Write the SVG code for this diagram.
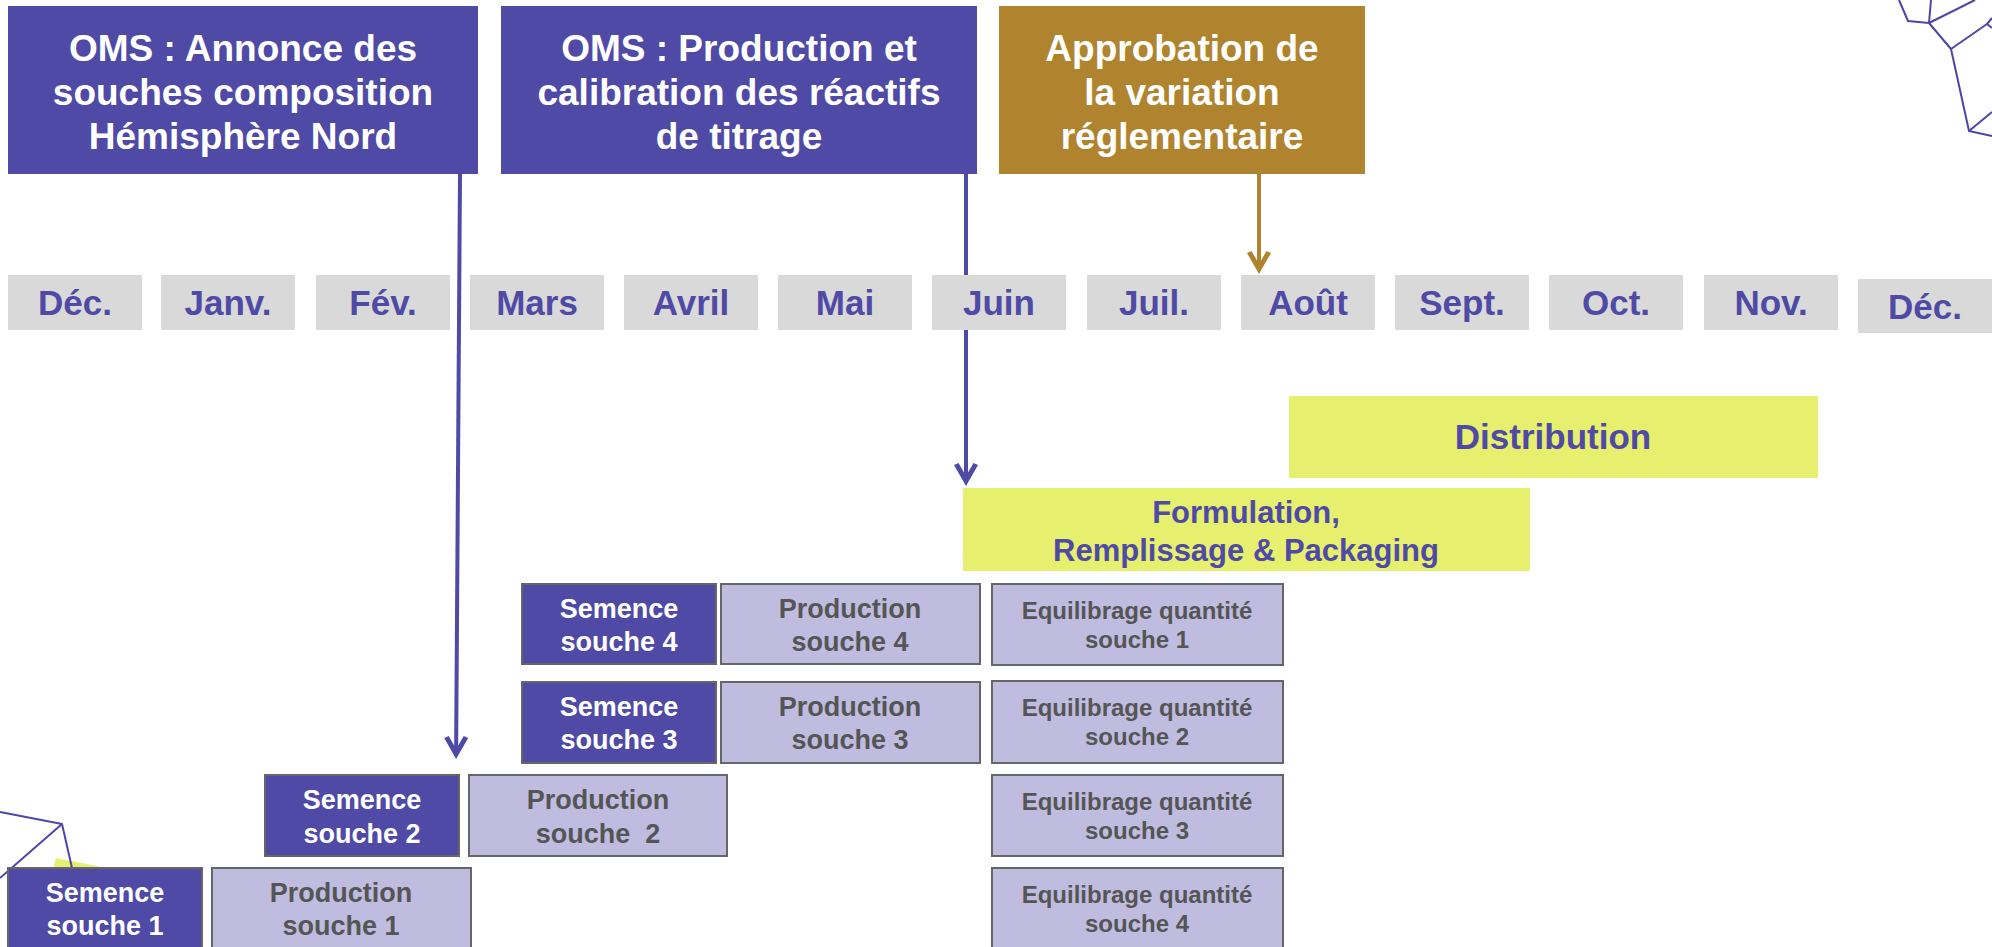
<svg xmlns="http://www.w3.org/2000/svg" width="1992" height="947" viewBox="0 0 1992 947">
  <style>
    text { font-family: "Liberation Sans", Arial, sans-serif; font-weight: bold; text-anchor: middle; }
    .hdr-p { fill: #4F4AA5; }
    .hdr-b { fill: #B0842F; }
    .hdr-t { fill: #FFFFFF; font-size: 37px; }
    .month { fill: #D9D9D9; }
    .month-t { fill: #4F4AA5; font-size: 35px; }
    .yel { fill: #E6EF6E; }
    .yel-t { fill: #4F4AA5; }
    .seed { fill: #4F4AA5; stroke: #666666; stroke-width: 2; }
    .seed-t { fill: #FFFFFF; font-size: 27px; }
    .prod { fill: #BFBCE0; stroke: #666666; stroke-width: 2; }
    .prod-t { fill: #555555; font-size: 27px; }
    .eq-t { fill: #555555; font-size: 24px; }
    .deco { fill: none; stroke: #4E46A5; stroke-width: 2; stroke-linejoin: round; }
    .conn-p { fill: none; stroke: #4F4AA5; stroke-width: 4; }
    .conn-b { fill: none; stroke: #B0842F; stroke-width: 4; }
  </style>
  <defs>
    <marker id="arrow-p" markerUnits="userSpaceOnUse" viewBox="-25 -13 27 26" refX="-6" refY="0" markerWidth="27" markerHeight="26" orient="auto">
      <path d="M0,0 L-21,-12 L-23,-7.5 L-10,0 L-23,7.5 L-21,12 Z" fill="#4F4AA5"/>
    </marker>
    <marker id="arrow-b" markerUnits="userSpaceOnUse" viewBox="-25 -13 27 26" refX="-6" refY="0" markerWidth="27" markerHeight="26" orient="auto">
      <path d="M0,0 L-21,-12 L-23,-7.5 L-10,0 L-23,7.5 L-21,12 Z" fill="#B0842F"/>
    </marker>
  </defs>

  <rect width="1992" height="947" fill="#FFFFFF"/>

  <!-- corner wireframe ornaments -->
  <g id="ornaments">
    <polyline class="deco" points="1899,0 1908,21 1929,23 1931,0"/>
    <polyline class="deco" points="1929,23 1975,0"/>
    <polyline class="deco" points="1929,23 1951,49 1987,24 1992,28"/>
    <polyline class="deco" points="1987,24 1992,18"/>
    <polyline class="deco" points="1951,49 1969,131 1992,136"/>
    <polyline class="deco" points="1969,131 1992,112"/>
    <polygon points="53,870 56,858 112,869" fill="#E6EF6E"/>
    <polyline class="deco" points="0,812 62,824 0,878"/>
    <polyline class="deco" points="62,824 72,868"/>
  </g>

  <!-- connectors (drawn under the month bar) -->
  <g id="connectors">
    <line class="conn-p" x1="460" y1="174" x2="456.1" y2="753" marker-end="url(#arrow-p)"/>
    <line class="conn-p" x1="966" y1="174" x2="966" y2="480" marker-end="url(#arrow-p)"/>
    <line class="conn-b" x1="1259" y1="174" x2="1259" y2="268" marker-end="url(#arrow-b)"/>
  </g>

  <!-- headline milestones -->
  <g id="oms-annonce">
    <rect class="hdr-p" x="8" y="6" width="470" height="168"/>
    <text class="hdr-t" x="243" y="61">OMS : Annonce des</text>
    <text class="hdr-t" x="243" y="105">souches composition</text>
    <text class="hdr-t" x="243" y="149">Hémisphère Nord</text>
  </g>
  <g id="oms-reactifs">
    <rect class="hdr-p" x="501" y="6" width="476" height="168"/>
    <text class="hdr-t" x="739" y="61">OMS : Production et</text>
    <text class="hdr-t" x="739" y="105">calibration des réactifs</text>
    <text class="hdr-t" x="739" y="149">de titrage</text>
  </g>
  <g id="approbation">
    <rect class="hdr-b" x="999" y="6" width="366" height="168"/>
    <text class="hdr-t" x="1182" y="61">Approbation de</text>
    <text class="hdr-t" x="1182" y="105">la variation</text>
    <text class="hdr-t" x="1182" y="149">réglementaire</text>
  </g>

  <!-- month timeline -->
  <g id="months">
    <rect class="month" x="8" y="275" width="134" height="55"/>
    <text class="month-t" x="75" y="315">Déc.</text>
    <rect class="month" x="161" y="275" width="134" height="55"/>
    <text class="month-t" x="228" y="315">Janv.</text>
    <rect class="month" x="316" y="275" width="134" height="55"/>
    <text class="month-t" x="383" y="315">Fév.</text>
    <rect class="month" x="470" y="275" width="134" height="55"/>
    <text class="month-t" x="537" y="315">Mars</text>
    <rect class="month" x="624" y="275" width="134" height="55"/>
    <text class="month-t" x="691" y="315">Avril</text>
    <rect class="month" x="778" y="275" width="134" height="55"/>
    <text class="month-t" x="845" y="315">Mai</text>
    <rect class="month" x="932" y="275" width="134" height="55"/>
    <text class="month-t" x="999" y="315">Juin</text>
    <rect class="month" x="1087" y="275" width="134" height="55"/>
    <text class="month-t" x="1154" y="315">Juil.</text>
    <rect class="month" x="1241" y="275" width="134" height="55"/>
    <text class="month-t" x="1308" y="315">Août</text>
    <rect class="month" x="1395" y="275" width="134" height="55"/>
    <text class="month-t" x="1462" y="315">Sept.</text>
    <rect class="month" x="1549" y="275" width="134" height="55"/>
    <text class="month-t" x="1616" y="315">Oct.</text>
    <rect class="month" x="1704" y="275" width="134" height="55"/>
    <text class="month-t" x="1771" y="315">Nov.</text>
    <rect class="month" x="1858" y="279" width="134" height="54"/>
    <text class="month-t" x="1925" y="319">Déc.</text>
  </g>

  <!-- downstream phases -->
  <g id="distribution">
    <rect class="yel" x="1289" y="396" width="529" height="82"/>
    <text class="yel-t" x="1553" y="449" font-size="35">Distribution</text>
  </g>
  <g id="formulation">
    <rect class="yel" x="963" y="488" width="567" height="83"/>
    <text class="yel-t" x="1246" y="523" font-size="31">Formulation,</text>
    <text class="yel-t" x="1246" y="561" font-size="31">Remplissage &amp; Packaging</text>
  </g>

  <!-- strain seeds and productions -->
  <g id="semence-4">
    <rect class="seed" x="522" y="584" width="194" height="80"/>
    <text class="seed-t" x="619" y="618">Semence</text>
    <text class="seed-t" x="619" y="651">souche 4</text>
  </g>
  <g id="production-4">
    <rect class="prod" x="721" y="584" width="259" height="80"/>
    <text class="prod-t" x="850" y="618">Production</text>
    <text class="prod-t" x="850" y="651">souche 4</text>
  </g>
  <g id="semence-3">
    <rect class="seed" x="522" y="682" width="194" height="81"/>
    <text class="seed-t" x="619" y="716">Semence</text>
    <text class="seed-t" x="619" y="749">souche 3</text>
  </g>
  <g id="production-3">
    <rect class="prod" x="721" y="682" width="259" height="81"/>
    <text class="prod-t" x="850" y="716">Production</text>
    <text class="prod-t" x="850" y="749">souche 3</text>
  </g>
  <g id="semence-2">
    <rect class="seed" x="265" y="775" width="194" height="81"/>
    <text class="seed-t" x="362" y="809">Semence</text>
    <text class="seed-t" x="362" y="843">souche 2</text>
  </g>
  <g id="production-2">
    <rect class="prod" x="469" y="775" width="258" height="81"/>
    <text class="prod-t" x="598" y="809">Production</text>
    <text class="prod-t" x="598" y="843" xml:space="preserve">souche  2</text>
  </g>
  <g id="semence-1">
    <rect class="seed" x="8" y="868" width="194" height="84"/>
    <text class="seed-t" x="105" y="902">Semence</text>
    <text class="seed-t" x="105" y="935">souche 1</text>
  </g>
  <g id="production-1">
    <rect class="prod" x="212" y="868" width="259" height="84"/>
    <text class="prod-t" x="341" y="902">Production</text>
    <text class="prod-t" x="341" y="935">souche 1</text>
  </g>

  <!-- quantity balancing per strain -->
  <g id="equilibrage-1">
    <rect class="prod" x="992" y="584" width="291" height="81"/>
    <text class="eq-t" x="1137" y="619">Equilibrage quantité</text>
    <text class="eq-t" x="1137" y="648">souche 1</text>
  </g>
  <g id="equilibrage-2">
    <rect class="prod" x="992" y="681" width="291" height="82"/>
    <text class="eq-t" x="1137" y="716">Equilibrage quantité</text>
    <text class="eq-t" x="1137" y="745">souche 2</text>
  </g>
  <g id="equilibrage-3">
    <rect class="prod" x="992" y="775" width="291" height="81"/>
    <text class="eq-t" x="1137" y="810">Equilibrage quantité</text>
    <text class="eq-t" x="1137" y="839">souche 3</text>
  </g>
  <g id="equilibrage-4">
    <rect class="prod" x="992" y="868" width="291" height="84"/>
    <text class="eq-t" x="1137" y="903">Equilibrage quantité</text>
    <text class="eq-t" x="1137" y="932">souche 4</text>
  </g>
</svg>
